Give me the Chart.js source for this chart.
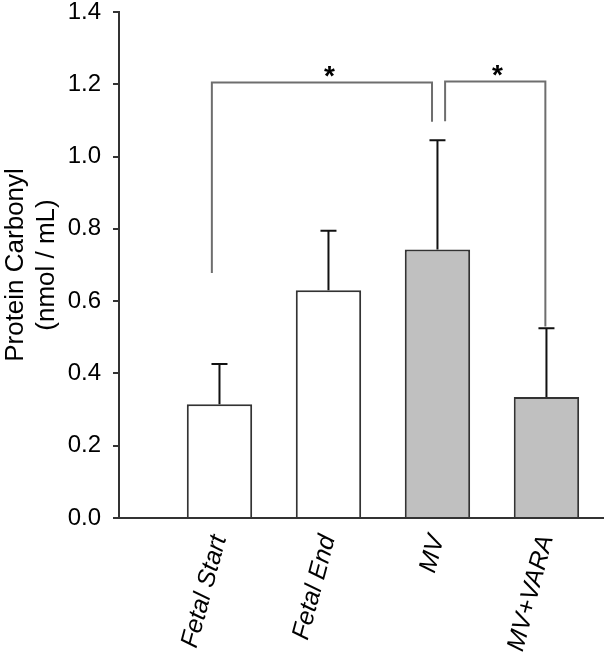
<!DOCTYPE html>
<html>
<head>
<meta charset="utf-8">
<script src="https://cdn.jsdelivr.net/npm/chart.js@4.4.1/dist/chart.umd.min.js"></script>
<style>
  html, body { margin: 0; padding: 0; background: #fff; }
</style>
</head>
<body>
<canvas id="chart" width="604" height="666"></canvas>
<script>
// ---- data ----
const CATEGORIES = ["Fetal Start", "Fetal End", "MV", "MV+VARA"];
const MEANS = [0.315, 0.63, 0.743, 0.335];
const ERR_UP = [0.111, 0.165, 0.302, 0.19];
const FILLS = ["#ffffff", "#ffffff", "#c0c0c0", "#c0c0c0"];
const Y_TICKS = [0, 0.2, 0.4, 0.6, 0.8, 1.0, 1.2, 1.4];

// significance brackets: x in category units, y in data units
const BRACKET_X0 = [-0.07, 2.07];
const BRACKET_X1 = [1.95, 2.99];
const BRACKET_TOP = [1.205, 1.208];
const BRACKET_LEFT_END = [0.678, 1.098];
const BRACKET_RIGHT_END = [1.096, 0.53];
const STAR_X = [1.01, 2.55];

const INK = "#333333";

const errorBars = {
  id: "errorBars",
  afterDatasetsDraw(chart) {
    const { ctx, scales: { x, y } } = chart;
    ctx.save();
    // error bars (upper only)
    ctx.strokeStyle = "#111";
    ctx.lineWidth = 2;
    MEANS.forEach((m, i) => {
      const px = x.getPixelForValue(i);
      const top = y.getPixelForValue(m + ERR_UP[i]);
      ctx.beginPath();
      ctx.moveTo(px, y.getPixelForValue(m));
      ctx.lineTo(px, top);
      ctx.moveTo(px - 8, top);
      ctx.lineTo(px + 8, top);
      ctx.stroke();
    });
    // brackets
    ctx.strokeStyle = "#6e6e6e";
    ctx.lineWidth = 2;
    BRACKET_X0.forEach((x0, i) => {
      const a = x.getPixelForValue(x0);
      const b = x.getPixelForValue(BRACKET_X1[i]);
      const t = y.getPixelForValue(BRACKET_TOP[i]);
      ctx.beginPath();
      ctx.moveTo(a, y.getPixelForValue(BRACKET_LEFT_END[i]));
      ctx.lineTo(a, t);
      ctx.lineTo(b, t);
      ctx.lineTo(b, y.getPixelForValue(BRACKET_RIGHT_END[i]));
      ctx.stroke();
    });
    // stars
    ctx.fillStyle = "#000";
    ctx.font = "bold 28px Arial, 'Liberation Sans', sans-serif";
    ctx.textAlign = "center";
    ctx.textBaseline = "middle";
    STAR_X.forEach((sx, i) => {
      ctx.fillText("*", x.getPixelForValue(sx), y.getPixelForValue(BRACKET_TOP[i]) - 5);
    });
    ctx.restore();
  },
};

Chart.defaults.font.family = "Arial, 'Liberation Sans', Helvetica, sans-serif";
Chart.defaults.color = "#000";

new Chart(document.getElementById("chart"), {
  type: "bar",
  data: {
    datasets: [{
      data: CATEGORIES.map((c, i) => ({ x: i, y: MEANS[i] })),
      backgroundColor: FILLS,
      borderColor: INK,
      borderWidth: 2,
      barPercentage: 0.6,
      categoryPercentage: 1,
    }],
  },
  options: {
    responsive: false,
    animation: false,
    layout: { padding: 0 },
    plugins: { legend: { display: false }, tooltip: { enabled: false } },
    scales: {
      x: {
        type: "linear",
        offset: false,
        min: -0.922,
        max: 3.528,
        afterBuildTicks: (scale) => { scale.ticks = CATEGORIES.map((c, i) => ({ value: i })); },
        afterFit: (scale) => {
          scale.height = 148;
          scale.paddingLeft = 0; scale.paddingRight = 0;
          scale.paddingTop = 0; scale.paddingBottom = 0;
        },
        grid: { display: true, drawOnChartArea: false, drawTicks: false },
        border: { display: true, color: INK, width: 2 },
        ticks: {
          autoSkip: false,
          minRotation: 75,
          maxRotation: 75,
          padding: 14,
          font: { size: 25, style: "italic" },
          callback: (v) => CATEGORIES[v],
        },
      },
      y: {
        min: 0,
        max: 1.4,
        afterBuildTicks: (scale) => { scale.ticks = Y_TICKS.map((v) => ({ value: v })); },
        afterFit: (scale) => {
          scale.width = 119;
          scale.paddingTop = 12; scale.paddingBottom = 0;
        },
        grid: { display: true, drawOnChartArea: false, drawTicks: true, tickLength: 6, color: INK, lineWidth: 2 },
        border: { display: true, color: INK, width: 2 },
        ticks: {
          padding: 12,
          font: { size: 24 },
          callback: (v) => v.toFixed(1),
        },
        title: {
          display: true,
          text: ["Protein Carbonyl", "(nmol / mL)"],
          font: { size: 26, lineHeight: 1.2 },
          padding: { top: 0, bottom: 0 },
        },
      },
    },
  },
  plugins: [errorBars],
});
</script>
</body>
</html>
